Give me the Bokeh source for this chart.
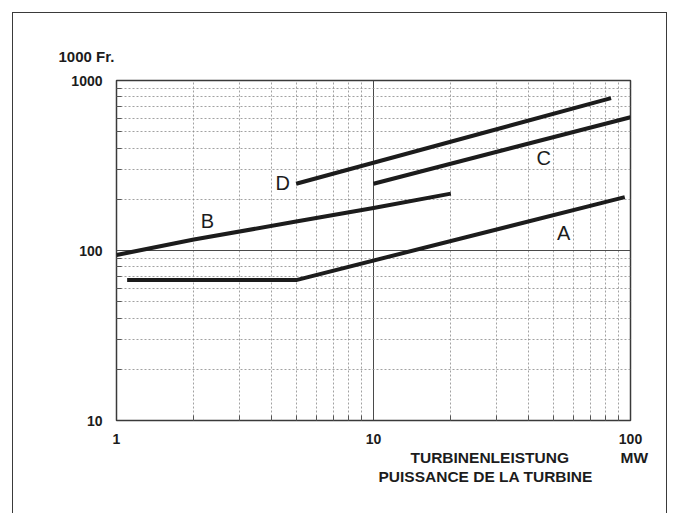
from bokeh.plotting import figure
from bokeh.models import FixedTicker, NumeralTickFormatter, Title, ColumnDataSource
from bokeh.core.properties import value
from bokeh.embed import file_html
from bokeh.resources import INLINE

# Turbine cost curves (1000 Fr.) against turbine power (MW), log-log
a_mw = [1.1, 5, 95]
a_cost = [67, 67, 206]

b_mw = [1, 2, 5, 10, 20]
b_cost = [94, 116, 148, 178, 216]

c_mw = [10, 100]
c_cost = [247, 608]

d_mw = [5, 84]
d_cost = [247, 787]

curve_names = ["A", "B", "C", "D"]
name_mw = [55, 2.26, 46, 4.43]
name_cost = [126, 150, 352, 251]

x_ticks = [1, 10, 100]
y_ticks = [10, 100, 1000]
x_minor = [2, 3, 4, 5, 6, 7, 8, 9, 20, 30, 40, 50, 60, 70, 80, 90]
y_minor = [20, 30, 40, 50, 60, 70, 80, 90, 200, 300, 400, 500, 600, 700, 800, 900]

FONT = "Liberation Sans"
INK = "#1c1c1c"
NBSP = "\u00a0"

# the canvas sits inside a thin page frame offset 12px from the window corner
W, H = 655, 505

p = figure(width=W, height=H, x_axis_type="log", y_axis_type="log",
           x_range=(1, 100), y_range=(10, 1000),
           output_backend="svg", toolbar_location=None,
           min_border_left=103, min_border_right=38,
           min_border_top=67, min_border_bottom=98,
           styles={"margin-left": "12px", "margin-top": "12px",
                   "border": "1px solid #3a3a3a"})
p.background_fill_color = "white"
p.border_fill_color = "white"
p.outline_line_color = "#3a3a3a"
p.outline_line_width = 1.5

for ax, ticks, minor in ((p.xaxis, x_ticks, x_minor), (p.yaxis, y_ticks, y_minor)):
    ax.ticker = FixedTicker(ticks=ticks, minor_ticks=minor)
    ax.formatter = NumeralTickFormatter(format="0")
    ax.axis_line_color = None
    ax.major_tick_line_color = None
    ax.minor_tick_in = 5
    ax.minor_tick_out = 0
    ax.minor_tick_line_color = "#555555"
    ax.minor_tick_line_width = 1
    ax.major_label_text_font = FONT
    ax.major_label_text_font_size = "14px"
    ax.major_label_text_font_style = "bold"
    ax.major_label_text_color = INK

p.xaxis.major_label_standoff = 7
p.yaxis.major_label_standoff = 8

for g in (p.xgrid, p.ygrid):
    g.grid_line_color = "#4a4a4a"
    g.grid_line_width = 1
    g.minor_grid_line_color = "#8a8a8a"
    g.minor_grid_line_width = 0.8
    g.minor_grid_line_dash = "2 2"

for xs, ys in ((a_mw, a_cost), (b_mw, b_cost), (c_mw, c_cost), (d_mw, d_cost)):
    p.line(xs, ys, line_color=INK, line_width=4, line_cap="butt", line_join="round")

names = ColumnDataSource(dict(x=name_mw, y=name_cost, t=curve_names))
p.text(x="x", y="y", text="t", source=names, text_font=value(FONT),
       text_font_size="20px", text_align="center", text_baseline="middle",
       text_color=INK)

def style_title(t, size="15.5px"):
    t.text_font = FONT
    t.text_font_size = size
    t.text_font_style = "bold"
    t.text_color = INK
    t.text_line_height = 1.0

# y-axis unit above the top-left corner of the frame
p.title.text = "1000 Fr."
p.title.align = "left"
p.title.offset = -58
p.title.standoff = 31
style_title(p.title, "15px")

# x-axis caption in two languages, unit at the right
row1 = Title(text="TURBINENLEISTUNG" + NBSP * 12 + "MW", align="left", offset=294, standoff=0)
row2 = Title(text="PUISSANCE DE LA TURBINE", align="left", offset=262, standoff=0)
for t in (row1, row2):
    style_title(t)
    p.add_layout(t, "below")

open("out.html", "w").write(file_html(p, INLINE))
